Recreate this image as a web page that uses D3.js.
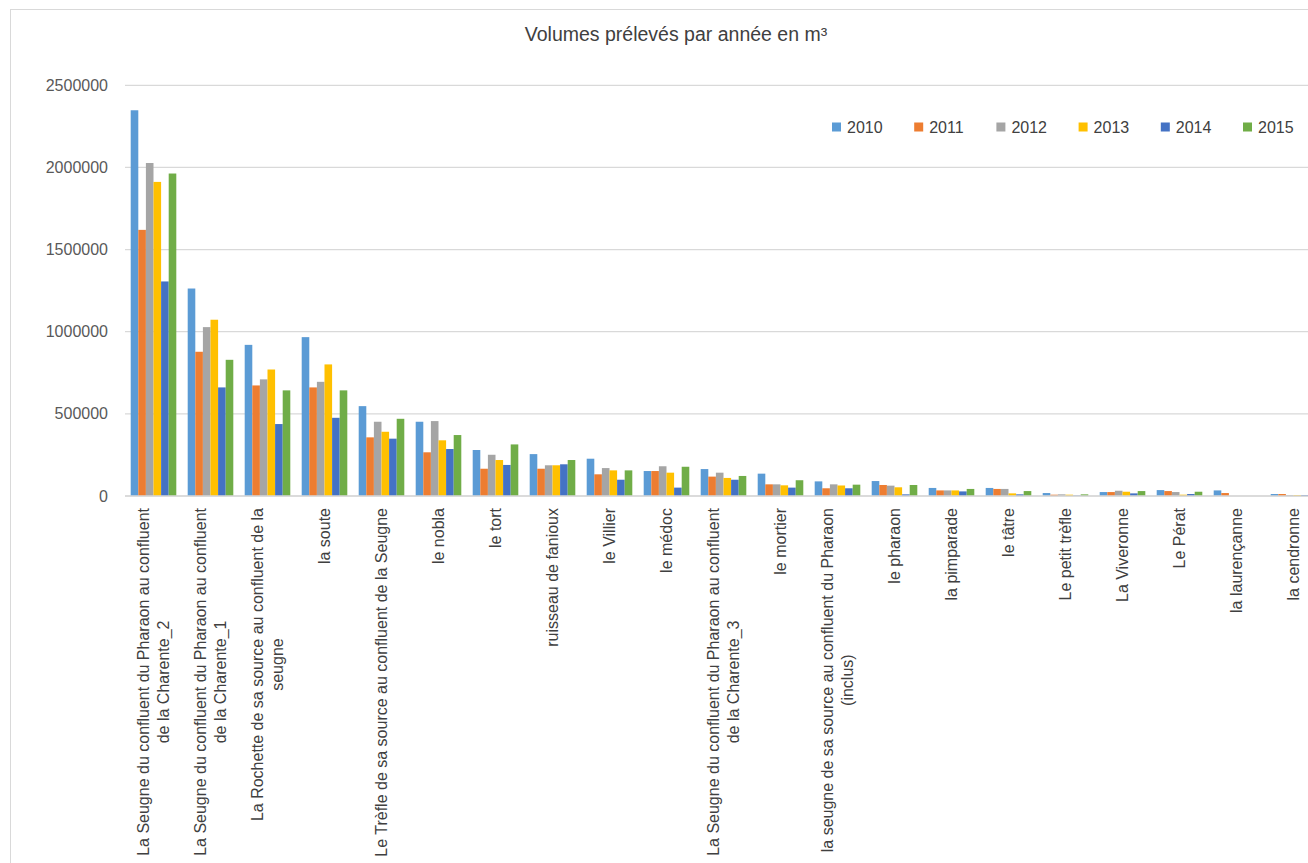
<!DOCTYPE html>
<html>
<head>
<meta charset="utf-8">
<script src="https://cdn.jsdelivr.net/npm/d3@7"></script>
<style>
  html, body { margin: 0; padding: 0; background: #fff; }
  svg { display: block; font-family: "Liberation Sans", Arial, sans-serif; }
</style>
</head>
<body>
<svg id="chart" width="1308" height="863"></svg>
<script>
// ---- data ----
const title = "Volumes prélevés par année en m³";
const years = ["2010", "2011", "2012", "2013", "2014", "2015"];
const colors = ["#5B9BD5", "#ED7D31", "#A5A5A5", "#FFC000", "#4472C4", "#70AD47"];
const categories = [
  ["La Seugne du confluent du Pharaon au confluent", "de la Charente_2"],
  ["La Seugne du confluent du Pharaon au confluent", "de la Charente_1"],
  ["La Rochette de sa source au confluent de la", "seugne"],
  ["la soute"],
  ["Le Trèfle de sa source au confluent de la Seugne"],
  ["le nobla"],
  ["le tort"],
  ["ruisseau de fanioux"],
  ["le Villier"],
  ["le médoc"],
  ["La Seugne du confluent du Pharaon au confluent", "de la Charente_3"],
  ["le mortier"],
  ["la seugne de sa source au confluent du Pharaon", "(inclus)"],
  ["le pharaon"],
  ["la pimparade"],
  ["le tâtre"],
  ["Le petit trèfle"],
  ["La Viveronne"],
  ["Le Pérat"],
  ["la laurençanne"],
  ["la cendronne"]
];
const v2010 = [2348000, 1263000, 920000, 967000, 547000, 452000, 280000, 255000, 227000, 152000, 164000, 136000, 89000, 91000, 49000, 49000, 18000, 24000, 36000, 34000, 12000];
const v2011 = [1620000, 878000, 673000, 661000, 357000, 266000, 166000, 166000, 132000, 152000, 118000, 71000, 47000, 67000, 34000, 43000, 8000, 24000, 30000, 18000, 12000];
const v2012 = [2027000, 1028000, 710000, 695000, 452000, 456000, 251000, 187000, 170000, 181000, 142000, 71000, 71000, 63000, 34000, 43000, 10000, 32000, 24000, 0, 6000];
const v2013 = [1912000, 1073000, 770000, 801000, 391000, 339000, 219000, 187000, 156000, 142000, 110000, 65000, 64000, 53000, 34000, 16000, 8000, 26000, 8000, 0, 6000];
const v2014 = [1306000, 661000, 438000, 476000, 349000, 286000, 189000, 193000, 99000, 51000, 99000, 51000, 47000, 10000, 28000, 10000, 3000, 16000, 12000, 0, 6000];
const v2015 = [1963000, 829000, 643000, 643000, 470000, 371000, 314000, 219000, 156000, 178000, 122000, 96000, 69000, 67000, 43000, 30000, 10000, 30000, 26000, 0, 6000];
const yTicks = [0, 500000, 1000000, 1500000, 2000000, 2500000];

const series = [v2010, v2011, v2012, v2013, v2014, v2015];
const rows = categories.map((c, i) => ({
  idx: i,
  lines: c,
  values: years.map((y, k) => ({ year: y, k: k, value: series[k][i] }))
}));

// ---- layout ----
const svg = d3.select("#chart");
const plotLeft = 125, step = 57;
const plotRight = plotLeft + step * categories.length;
const yTop = 85.3, yZero = 496;

// chart border
svg.append("rect")
  .attr("x", 10.5).attr("y", 9.5)
  .attr("width", 1400).attr("height", 1000)
  .attr("fill", "#fff").attr("stroke", "#d9d9d9").attr("stroke-width", 1);

const x0 = d3.scaleBand()
  .domain(d3.range(categories.length))
  .range([plotLeft, plotRight])
  .paddingInner(0.2).paddingOuter(0.1);
const x1 = d3.scaleBand().domain(years).range([0, x0.bandwidth()]).padding(0);
const y = d3.scaleLinear().domain([0, 2500000]).range([yZero, yTop]);

// gridlines
svg.append("g").selectAll("line").data(yTicks).join("line")
  .attr("x1", plotLeft).attr("x2", plotRight)
  .attr("y1", d => y(d)).attr("y2", d => y(d))
  .attr("stroke", "#d9d9d9").attr("stroke-width", 1.3);

// y axis labels
const yAxis = d3.axisLeft(y).tickValues(yTicks).tickSize(0).tickPadding(0).tickFormat(d3.format("d"));
const ya = svg.append("g").attr("transform", `translate(108,0)`).call(yAxis);
ya.select(".domain").remove();
ya.selectAll("text").attr("fill", "#595959").attr("font-size", 16)
  .attr("font-family", "Liberation Sans, Arial, sans-serif");

// bars
const groups = svg.append("g").selectAll("g").data(rows).join("g")
  .attr("transform", d => `translate(${x0(d.idx)},0)`);
groups.selectAll("rect").data(d => d.values).join("rect")
  .attr("x", d => x1(d.year))
  .attr("width", x1.bandwidth())
  .attr("y", d => y(d.value))
  .attr("height", d => yZero - y(d.value))
  .attr("fill", d => colors[d.k]);

// baseline
svg.append("line").attr("x1", plotLeft).attr("x2", plotRight)
  .attr("y1", yZero).attr("y2", yZero)
  .attr("stroke", "#d9d9d9").attr("stroke-width", 1.5);

// x labels (rotated)
const labelTop = 508, lineH = 19.5;
const xl = svg.append("g").selectAll("g").data(rows).join("g")
  .attr("transform", d => `translate(${x0(d.idx) + x0.bandwidth() / 2},0) rotate(-90)`);
xl.each(function(d) {
  const g = d3.select(this);
  const texts = d.lines.map((ln, i) => g.append("text")
    .attr("font-size", 16).attr("fill", "#404040")
    .attr("text-anchor", "middle")
    .attr("dy", "0.35em")
    .attr("y", (i - (d.lines.length - 1) / 2) * lineH)
    .text(ln));
  const L = d3.max(texts, t => t.node().getComputedTextLength());
  texts.forEach(t => t.attr("x", -(labelTop + L / 2)));
});

// title
svg.append("text")
  .attr("x", 676).attr("y", 41)
  .attr("text-anchor", "middle")
  .attr("font-size", 19.5).attr("fill", "#404040")
  .text(title);

// legend
const legend = svg.append("g").selectAll("g").data(years).join("g")
  .attr("transform", (d, i) => `translate(${832 + i * 82.2},127)`);
legend.append("rect").attr("x", 0).attr("y", -4.5).attr("width", 9).attr("height", 9)
  .attr("fill", (d, i) => colors[i]);
legend.append("text").attr("x", 15).attr("dy", "0.35em")
  .attr("font-size", 16).attr("fill", "#404040")
  .text(d => d);
</script>
</body>
</html>
